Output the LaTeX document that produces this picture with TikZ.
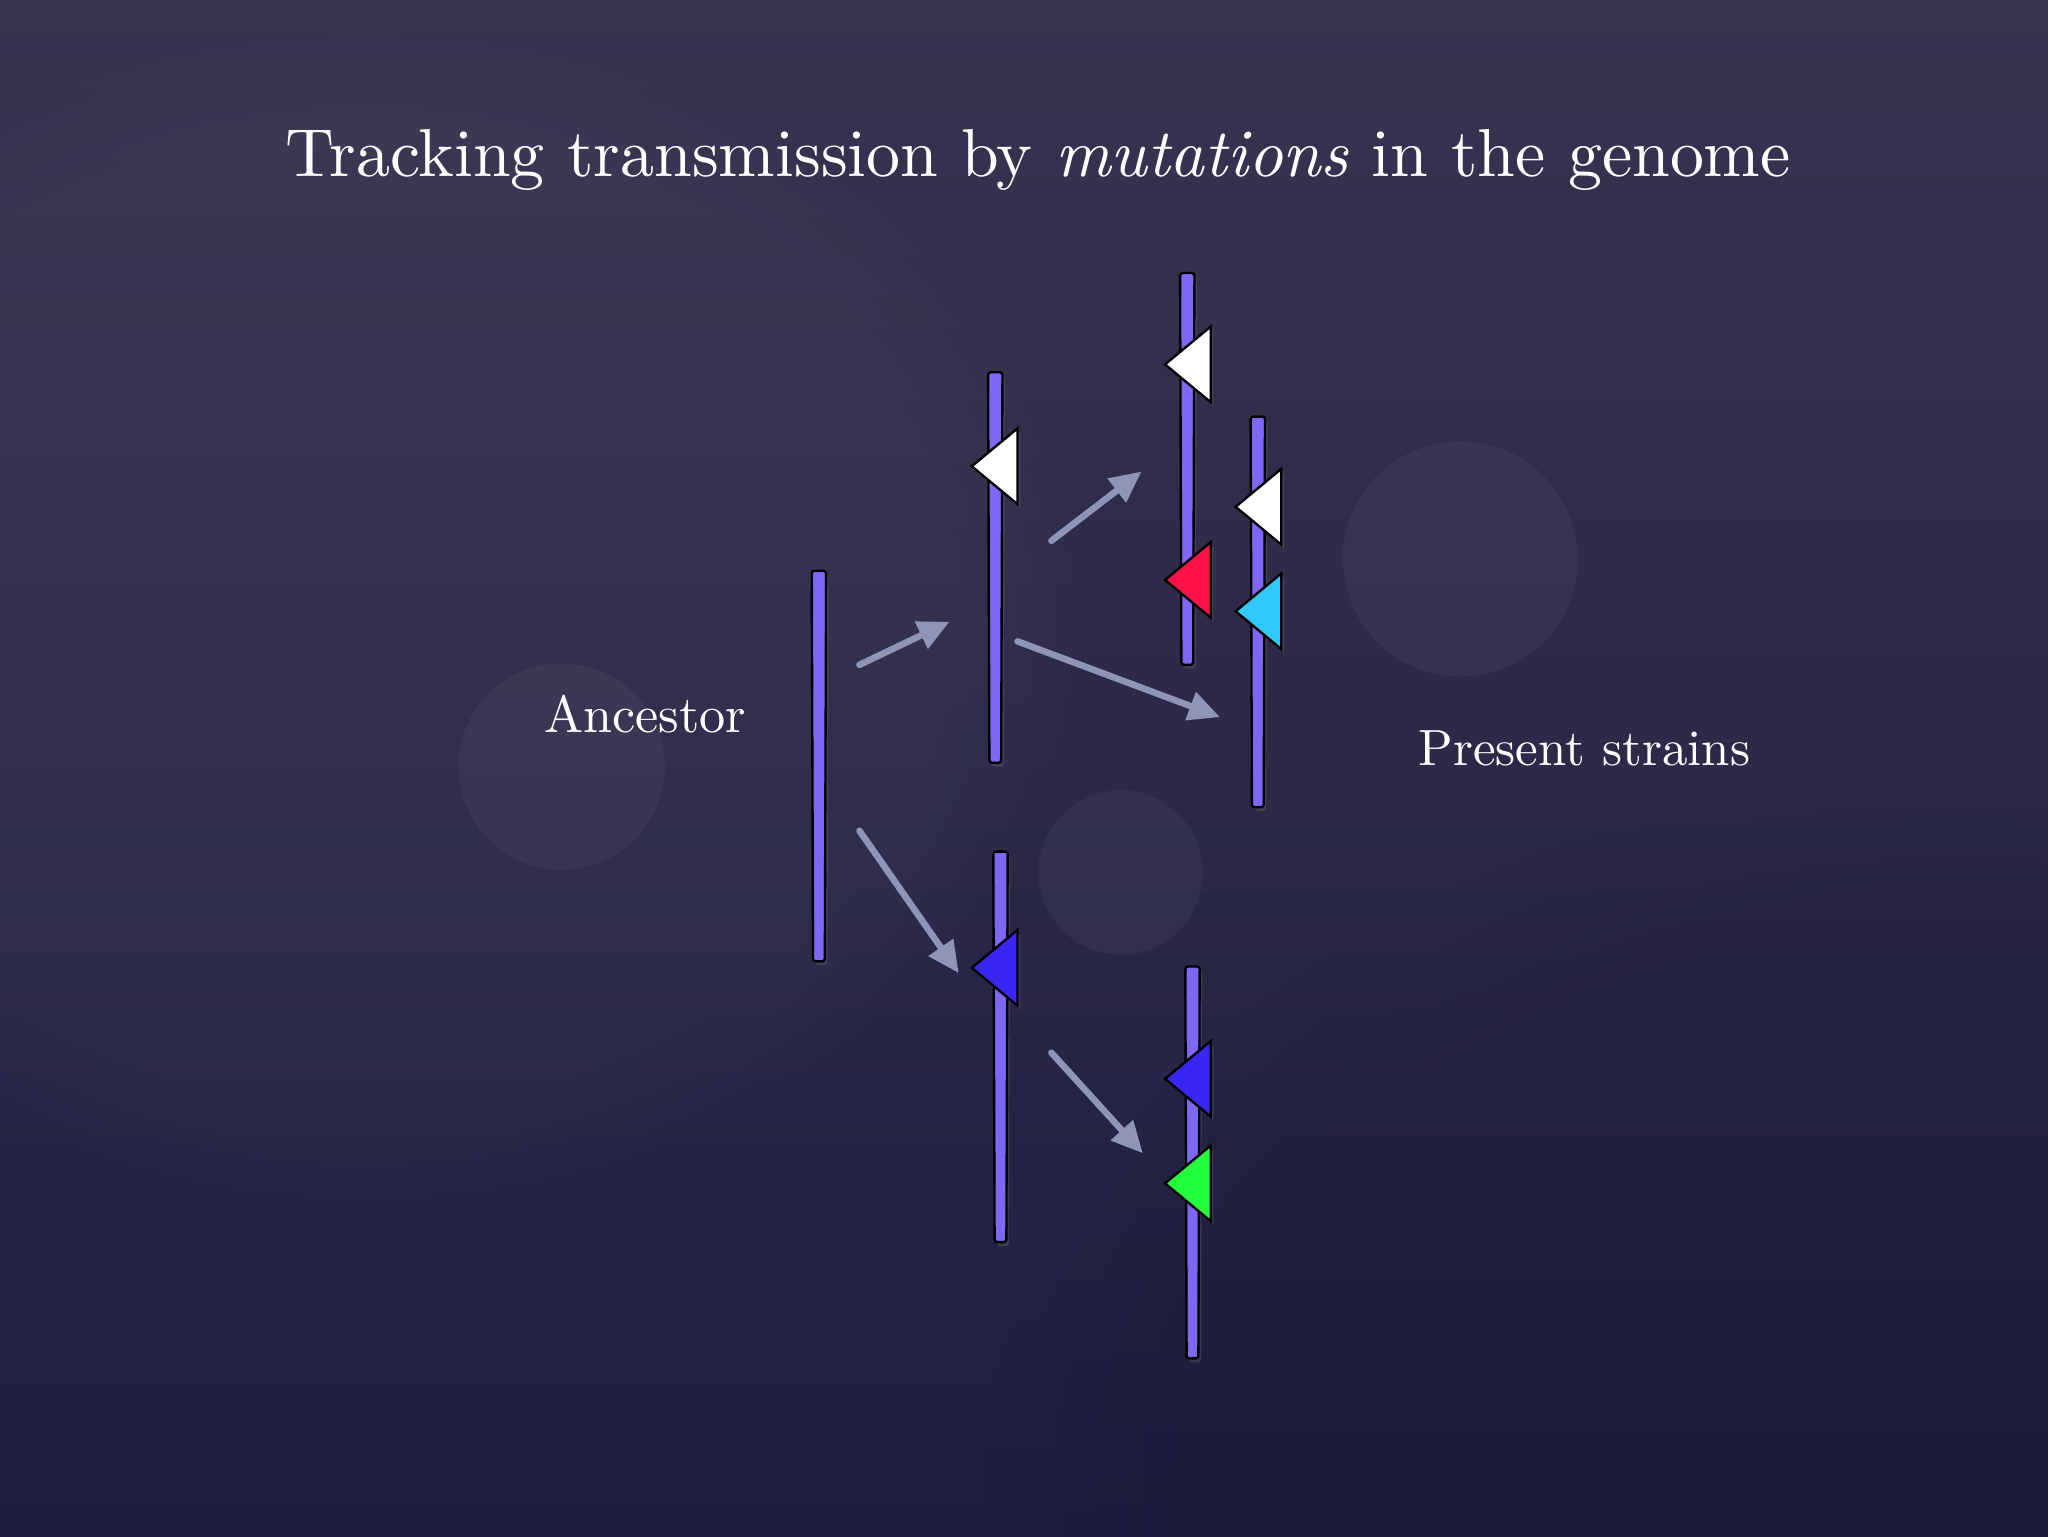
\documentclass[tikz,border=0pt]{standalone}
\usepackage{fontspec}
\setmainfont{lmroman10-regular}[Extension=.otf, ItalicFont=lmroman10-italic]
\usetikzlibrary{arrows.meta,shadows,fadings}
\definecolor{bgtop}{HTML}{38334F}
\definecolor{bgbot}{HTML}{1F1E42}
\definecolor{chromc}{HTML}{8066F5}
\definecolor{arrowc}{HTML}{8E95B6}
\definecolor{redm}{HTML}{FF1149}
\definecolor{cyanm}{HTML}{33C8FA}
\definecolor{bluem}{HTML}{3A26F2}
\definecolor{greenm}{HTML}{22FF3C}
\tikzset{
  chrom/.style={fill=chromc, draw=black, line width=1.8pt, rounded corners=2pt,
    drop shadow={shadow xshift=2pt, shadow yshift=-3pt, opacity=0.25}},
  mut/.style={draw=black, line width=1.8pt, line join=miter,
    drop shadow={shadow xshift=2pt, shadow yshift=-3pt, opacity=0.25}},
  trans/.style={draw=arrowc, line width=5pt, line cap=round,
    -{Triangle[length=24pt,width=22pt]}},
  label/.style={text=white, font=\fontsize{40}{44}\selectfont, inner sep=0pt},
  bokeh/.style={fill=white, opacity=0.04}
}
\newcommand{\chromobar}[4]{% name, x, ytop, ybot
  \coordinate (#1) at (#2,{(#3+#4)/2});
  \coordinate (#1-top) at (#2,#3);
  \coordinate (#1-bot) at (#2,#4);
  \path[chrom] (#2-5.5,#3) -- (#2+5.5,#3) -- (#2+4.5,#4) -- (#2-4.5,#4) -- cycle;
}
\newcommand{\mutri}[4]{% name, tipx, tipy, colour
  \coordinate (#1) at (#2,#3);
  \path[mut, fill=#4] (#2,#3) -- (#2+35,#3-29) -- (#2+35,#3+29) -- cycle;
}
\begin{document}
\begin{tikzpicture}[x=1pt,y=-1pt]
\useasboundingbox (0,0) rectangle (1568,1176);
% background
\shade[top color=bgtop, bottom color=bgbot] (0,0) rectangle (1568,1176);
\fill[white, opacity=0.03, path fading=circle with fuzzy edge 20 percent] (280,470) ellipse (560 and 460);
\fill[black, opacity=0.08, path fading=circle with fuzzy edge 20 percent] (1500,1150) ellipse (750 and 550);
% bokeh circles
\fill[bokeh] (430,587) circle (79);
\fill[bokeh] (858,668) circle (63);
\fill[bokeh] (1118,428) circle (90);
% title
\node[text=white, font=\fontsize{52}{60}\selectfont, inner sep=0pt, anchor=base] (title) at (795,135)
  {Tracking transmission by \textit{mutations} in the genome};
% chromosomes
\chromobar{anc}{627}{437}{736}
\chromobar{mu}{762}{285}{584}
\chromobar{ml}{766}{652}{951}
\chromobar{ra}{909}{209}{509}
\chromobar{rb}{963}{319}{618}
\chromobar{rc}{913}{740}{1040}
% mutations
\mutri{m1}{744}{357}{white}
\mutri{m2}{892}{279}{white}
\mutri{m3}{892}{444}{redm}
\mutri{m4}{946}{388}{white}
\mutri{m5}{946}{468}{cyanm}
\mutri{m6}{744}{741}{bluem}
\mutri{m7}{892}{826}{bluem}
\mutri{m8}{892}{906}{greenm}
% arrow end points
\coordinate (a1s) at (658,509); \coordinate (a1e) at (727,476);
\coordinate (a2s) at (805,414); \coordinate (a2e) at (874,361);
\coordinate (a3s) at (779,491); \coordinate (a3e) at (934,549);
\coordinate (a4s) at (658,636); \coordinate (a4e) at (734,745);
\coordinate (a5s) at (805,806); \coordinate (a5e) at (875,883);
\draw[trans] (a1s) -- (a1e);
\draw[trans] (a2s) -- (a2e);
\draw[trans] (a3s) -- (a3e);
\draw[trans] (a4s) -- (a4e);
\draw[trans] (a5s) -- (a5e);
% labels
\node[label, anchor=base] (ancl) at (494,561) {Ancestor};
\node[label, anchor=base, font=\fontsize{39}{44}\selectfont] (pres) at (1213,586) {Present strains};
\end{tikzpicture}
\end{document}
